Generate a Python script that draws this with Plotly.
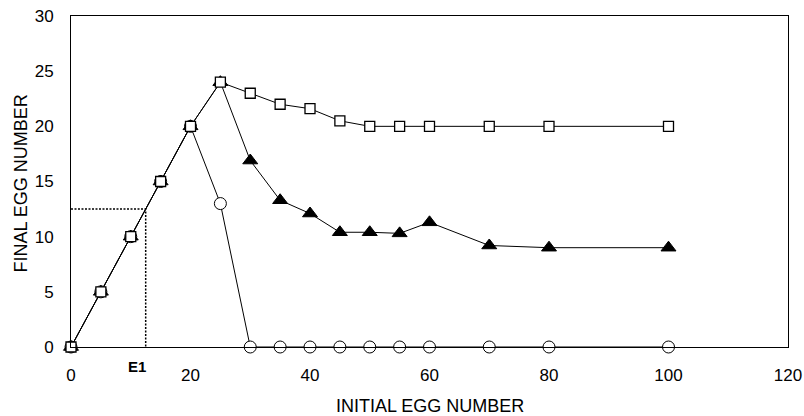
import plotly.graph_objects as go

# Data
initial_eggs = [0, 5, 10, 15, 20, 25, 30, 35, 40, 45, 50, 55, 60, 70, 80, 100]
final_squares = [0, 5, 10, 15, 20, 24, 23, 22, 21.6, 20.5, 20, 20, 20, 20, 20, 20]
final_triangles = [0, 5, 10, 15, 20, 24, 16.9, 13.3, 12.1, 10.4, 10.4, 10.3, 11.3, 9.2, 9.0, 9.0]
final_circles = [0, 5, 10, 15, 20, 13, 0, 0, 0, 0, 0, 0, 0, 0, 0, 0]
e1_value = 12.5
x_ticks = [0, 20, 40, 60, 80, 100, 120]
y_ticks = [0, 5, 10, 15, 20, 25, 30]
x_title = "INITIAL EGG NUMBER"
y_title = "FINAL EGG NUMBER"

FONT = "Liberation Sans, Arial, sans-serif"

fig = go.Figure()

# E1 guide lines (dotted)
fig.add_trace(go.Scatter(
    x=[0, e1_value, e1_value], y=[e1_value, e1_value, 0],
    mode="lines", line=dict(color="black", width=1.5, dash="2px,1.5px"),
    hoverinfo="skip", showlegend=False, cliponaxis=False))

fig.add_trace(go.Scatter(
    x=initial_eggs, y=final_circles, mode="lines+markers",
    line=dict(color="black", width=1),
    marker=dict(symbol="circle", size=12, color="white", line=dict(color="black", width=1)),
    showlegend=False, cliponaxis=False))

fig.add_trace(go.Scatter(
    x=initial_eggs, y=final_triangles, mode="lines+markers",
    line=dict(color="black", width=1),
    marker=dict(symbol="triangle-up", size=13, color="black", line=dict(color="black", width=1)),
    showlegend=False, cliponaxis=False))

fig.add_trace(go.Scatter(
    x=initial_eggs, y=final_squares, mode="lines+markers",
    line=dict(color="black", width=1),
    marker=dict(symbol="square", size=10, color="white", line=dict(color="black", width=1.3)),
    showlegend=False, cliponaxis=False))

fig.add_annotation(x=e1_value, y=0, xref="x", yref="y", text="<b>E1</b>",
                   showarrow=False, xanchor="right", xshift=2,
                   yanchor="top", yshift=-9,
                   font=dict(family=FONT, size=15, color="black"))

# Axis titles
fig.add_annotation(x=0.5, y=0, xref="paper", yref="paper", text=x_title,
                   showarrow=False, xanchor="center", yanchor="middle", yshift=-59,
                   font=dict(family=FONT, size=18, color="black"))
fig.add_annotation(x=0, y=0.5, xref="paper", yref="paper", text=y_title,
                   showarrow=False, textangle=-90, xanchor="center", yanchor="middle",
                   xshift=-51, yshift=-2,
                   font=dict(family=FONT, size=18, color="black"))

fig.update_layout(
    width=804, height=416,
    margin=dict(l=71, r=16, t=16, b=69),
    paper_bgcolor="white", plot_bgcolor="white",
    font=dict(family=FONT, size=17, color="black"),
    xaxis=dict(
        range=[0, 120], tickvals=x_ticks, showgrid=False, zeroline=False,
        showline=True, linecolor="black", linewidth=1, mirror=True,
        ticks="outside", ticklen=13, tickcolor="rgba(0,0,0,0)", automargin=False,
    ),
    yaxis=dict(
        range=[0, 30], tickvals=y_ticks, showgrid=False, zeroline=False,
        showline=True, linecolor="black", linewidth=1, mirror=True,
        ticks="outside", ticklen=13, tickcolor="rgba(0,0,0,0)", automargin=False,
    ),
)

fig.write_html("out.html")
